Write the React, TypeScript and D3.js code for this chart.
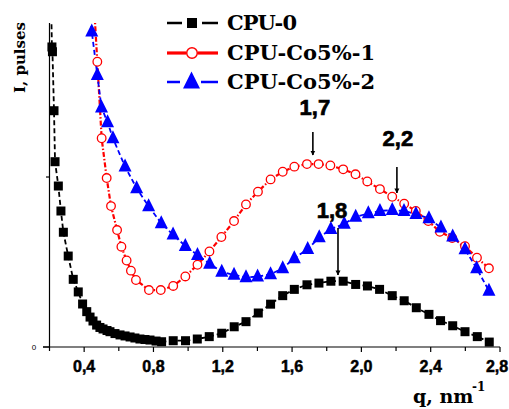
import React from 'react';
import * as d3 from 'd3';

const W = 509;
const H = 409;

// CPU-0 (black squares)
const cpu0Q = [0.209, 0.214, 0.217, 0.226, 0.232, 0.251, 0.266, 0.280, 0.308, 0.337, 0.366, 0.391, 0.415, 0.434, 0.451, 0.472, 0.491, 0.509, 0.532, 0.549, 0.578, 0.607, 0.636, 0.665, 0.693, 0.722, 0.751, 0.780, 0.815, 0.847, 0.914, 0.985, 1.053, 1.122, 1.194, 1.266, 1.334, 1.405, 1.476, 1.546, 1.613, 1.686, 1.755, 1.824, 1.895, 1.967, 2.035, 2.105, 2.178, 2.247, 2.317, 2.390, 2.457, 2.527, 2.598, 2.669, 2.738];
const cpu0I = [2.04, 1.765, 1.737, 1.39, 1.09, 0.947, 0.80, 0.675, 0.535, 0.398, 0.324, 0.253, 0.208, 0.176, 0.153, 0.129, 0.115, 0.106, 0.097, 0.090, 0.079, 0.071, 0.065, 0.059, 0.053, 0.047, 0.044, 0.041, 0.035, 0.031, 0.037, 0.037, 0.047, 0.061, 0.081, 0.119, 0.149, 0.200, 0.252, 0.302, 0.339, 0.366, 0.376, 0.387, 0.387, 0.368, 0.359, 0.339, 0.302, 0.272, 0.231, 0.192, 0.155, 0.125, 0.090, 0.061, 0.029];

// CPU-Co5%-1 (red open circles)
const co1Q = [0.457, 0.476, 0.501, 0.530, 0.555, 0.590, 0.615, 0.645, 0.670, 0.699, 0.774, 0.842, 0.914, 0.984, 1.054, 1.123, 1.192, 1.265, 1.334, 1.403, 1.476, 1.546, 1.613, 1.686, 1.753, 1.821, 1.895, 1.966, 2.034, 2.107, 2.178, 2.247, 2.314, 2.386, 2.453, 2.524, 2.598, 2.667, 2.736];
const co1I = [2.01, 1.678, 1.228, 0.994, 0.829, 0.688, 0.590, 0.509, 0.449, 0.394, 0.335, 0.335, 0.359, 0.415, 0.484, 0.562, 0.647, 0.741, 0.839, 0.914, 0.986, 1.031, 1.061, 1.076, 1.076, 1.068, 1.045, 1.016, 0.974, 0.929, 0.884, 0.843, 0.800, 0.741, 0.678, 0.641, 0.593, 0.525, 0.463];

// CPU-Co5%-2 (blue triangles)
const co2Q = [0.434, 0.444, 0.476, 0.500, 0.535, 0.566, 0.636, 0.703, 0.772, 0.845, 0.913, 0.984, 1.054, 1.124, 1.194, 1.265, 1.334, 1.401, 1.476, 1.546, 1.613, 1.690, 1.757, 1.824, 1.901, 1.967, 2.040, 2.107, 2.178, 2.246, 2.315, 2.390, 2.459, 2.527, 2.598, 2.665, 2.736];
const co2I = [1.982, 1.855, 1.600, 1.409, 1.322, 1.228, 1.061, 0.934, 0.828, 0.728, 0.661, 0.594, 0.541, 0.490, 0.443, 0.424, 0.410, 0.414, 0.428, 0.463, 0.522, 0.576, 0.645, 0.694, 0.724, 0.766, 0.786, 0.800, 0.806, 0.800, 0.782, 0.757, 0.702, 0.649, 0.575, 0.463, 0.331];

const seriesNames = ['CPU-0', 'CPU-Co5%-1', 'CPU-Co5%-2'];

const xTickValues = [0.2, 0.4, 0.6, 0.8, 1.0, 1.2, 1.4, 1.6, 1.8, 2.0, 2.2, 2.4, 2.6, 2.8];
const xLabelValues = [0.4, 0.8, 1.2, 1.6, 2.0, 2.4, 2.8];
const xLabels = ['0,4', '0,8', '1,2', '1,6', '2,0', '2,4', '2,8'];
const yTickValues = [0, 1];
const yLabels = ['0', ''];

// Peak annotations
const annLabels = ['1,7', '2,2', '1,8'];
const annQ = [1.72, 2.205, 1.865];
const annTextI = [1.365, 1.182, 0.759];
const annArrowTop = [1.265, 1.059, 0.70];
const annArrowBottom = [1.129, 0.906, 0.424];
const annTextDx = [2, 1, -6];

const x = d3.scaleLinear().domain([0.2, 2.8]).range([49.5, 500]);
const y = d3.scaleLinear().domain([0, 1.906]).range([347, 23]);

const zip = (q: number[], v: number[]) => q.map((d, i) => [d, v[i]] as [number, number]);
const line = d3.line<[number, number]>().x(d => x(d[0])).y(d => y(d[1]));

const triPath = (s: number) => `M0,${-s * 0.62}L${s * 0.5},${s * 0.38}L${-s * 0.5},${s * 0.38}Z`;

export default function App() {
  const s0 = zip(cpu0Q, cpu0I);
  const s1 = zip(co1Q, co1I);
  const s2 = zip(co2Q, co2I);
  const legendY = [23, 53, 82];
  const sansBold = "'Liberation Sans', Arial, sans-serif";
  const serifBold = "'DejaVu Serif', serif";

  return (
    <svg width={W} height={H} style={{ position: 'absolute', left: 0, top: 0, background: '#fff' }}>
      <defs>
        <clipPath id="plot">
          <rect x={44} y={23} width={462} height={330} />
        </clipPath>
        <marker id="arr" viewBox="0 0 10 10" refX="9" refY="5" markerWidth="5" markerHeight="7" orient="auto" markerUnits="userSpaceOnUse">
          <path d="M0,0L10,5L0,10Z" fill="#000" />
        </marker>
      </defs>
      <rect x={0} y={0} width={W} height={H} fill="#fff" />

      {/* axes */}
      <line x1={x(0.2)} x2={x(0.2)} y1={23} y2={347} stroke="#000" strokeWidth={1.2} />
      <line x1={43} x2={x(2.8)} y1={y(0)} y2={y(0)} stroke="#000" strokeWidth={1.2} />
      {xTickValues.map((t, i) => (
        <line key={'xt' + i} x1={x(t)} x2={x(t)} y1={347} y2={i % 2 === 1 ? 352 : 351} stroke="#000" strokeWidth={1.2} />
      ))}
      {xLabelValues.map((t, i) => (
        <text key={'xl' + i} x={Math.min(x(t), 497)} y={372} textAnchor="middle" fontFamily={sansBold} fontWeight="bold" fontSize={16} stroke="#000" strokeWidth={0.5}>{xLabels[i]}</text>
      ))}
      {yTickValues.map((t, i) => (
        <line key={'yt' + i} x1={i === 0 ? 43 : 46} x2={x(0.2)} y1={y(t)} y2={y(t)} stroke="#000" strokeWidth={1.2} />
      ))}
      {yTickValues.map((t, i) => (
        yLabels[i] ? <text key={'yl' + i} x={34} y={y(t) + 3} textAnchor="middle" fontFamily={sansBold} fontSize={8}>{yLabels[i]}</text> : null
      ))}

      {/* axis titles */}
      <text x={413} y={403} fontFamily={serifBold} fontWeight="bold" fontSize={19}>q, nm</text>
      <text x={472} y={391} fontFamily={serifBold} fontWeight="bold" fontSize={12}>-1</text>
      <text transform="translate(25,57.5) rotate(-90)" textAnchor="middle" fontFamily={serifBold} fontWeight="bold" fontSize={15}>I, pulses</text>

      <g clipPath="url(#plot)">
        <path d={line(s0) || ''} fill="none" stroke="#000" strokeWidth={1.8} strokeDasharray="5,3" />
        <path d={line(s1) || ''} fill="none" stroke="#ff0000" strokeWidth={2.2} strokeDasharray="5,2,1.5,2" />
        <path d={line(s2) || ''} fill="none" stroke="#0000ff" strokeWidth={1.8} strokeDasharray="5,3" />
        {s0.map((d, i) => (
          <rect key={'b' + i} x={x(d[0]) - 4.5} y={y(d[1]) - 4.5} width={9} height={9} fill="#000" />
        ))}
        {s1.map((d, i) => (
          <circle key={'r' + i} cx={x(d[0])} cy={y(d[1])} r={4.3} fill="#fff" stroke="#ff0000" strokeWidth={1.3} />
        ))}
        {s2.map((d, i) => (
          <path key={'t' + i} transform={`translate(${x(d[0])},${y(d[1])})`} d={triPath(13)} fill="#0000ff" />
        ))}
      </g>

      {/* annotations */}
      {annLabels.map((lab, i) => (
        <g key={'a' + i}>
          <text x={x(annQ[i]) + annTextDx[i]} y={y(annTextI[i])} textAnchor="middle" fontFamily={sansBold} fontWeight="bold" fontSize={22} stroke="#000" strokeWidth={0.7}>{lab}</text>
          <line x1={x(annQ[i])} x2={x(annQ[i])} y1={y(annArrowTop[i])} y2={y(annArrowBottom[i])} stroke="#000" strokeWidth={1.6} markerEnd="url(#arr)" />
        </g>
      ))}

      {/* legend */}
      <g>
        <line x1={167} x2={182} y1={legendY[0]} y2={legendY[0]} stroke="#000" strokeWidth={2.5} />
        <line x1={202} x2={218} y1={legendY[0]} y2={legendY[0]} stroke="#000" strokeWidth={2.5} />
        <rect x={187} y={legendY[0] - 5} width={10} height={10} fill="#000" />
        <line x1={167} x2={186} y1={legendY[1]} y2={legendY[1]} stroke="#ff0000" strokeWidth={3.2} />
        <line x1={198} x2={218} y1={legendY[1]} y2={legendY[1]} stroke="#ff0000" strokeWidth={3.2} />
        <circle cx={192} cy={legendY[1]} r={5.3} fill="#fff" stroke="#ff0000" strokeWidth={1.5} />
        <line x1={167} x2={180} y1={legendY[2]} y2={legendY[2]} stroke="#0000ff" strokeWidth={2.5} />
        <line x1={201} x2={218} y1={legendY[2]} y2={legendY[2]} stroke="#0000ff" strokeWidth={2.5} />
        <path transform={`translate(191.5,${legendY[2]})`} d={triPath(17)} fill="#0000ff" />
        {seriesNames.map((n, i) => (
          <text key={'lg' + i} x={227} y={legendY[i] + 7} fontFamily={serifBold} fontWeight="bold" fontSize={21} textLength={i === 0 ? 70 : 148}>{n}</text>
        ))}
      </g>
    </svg>
  );
}
